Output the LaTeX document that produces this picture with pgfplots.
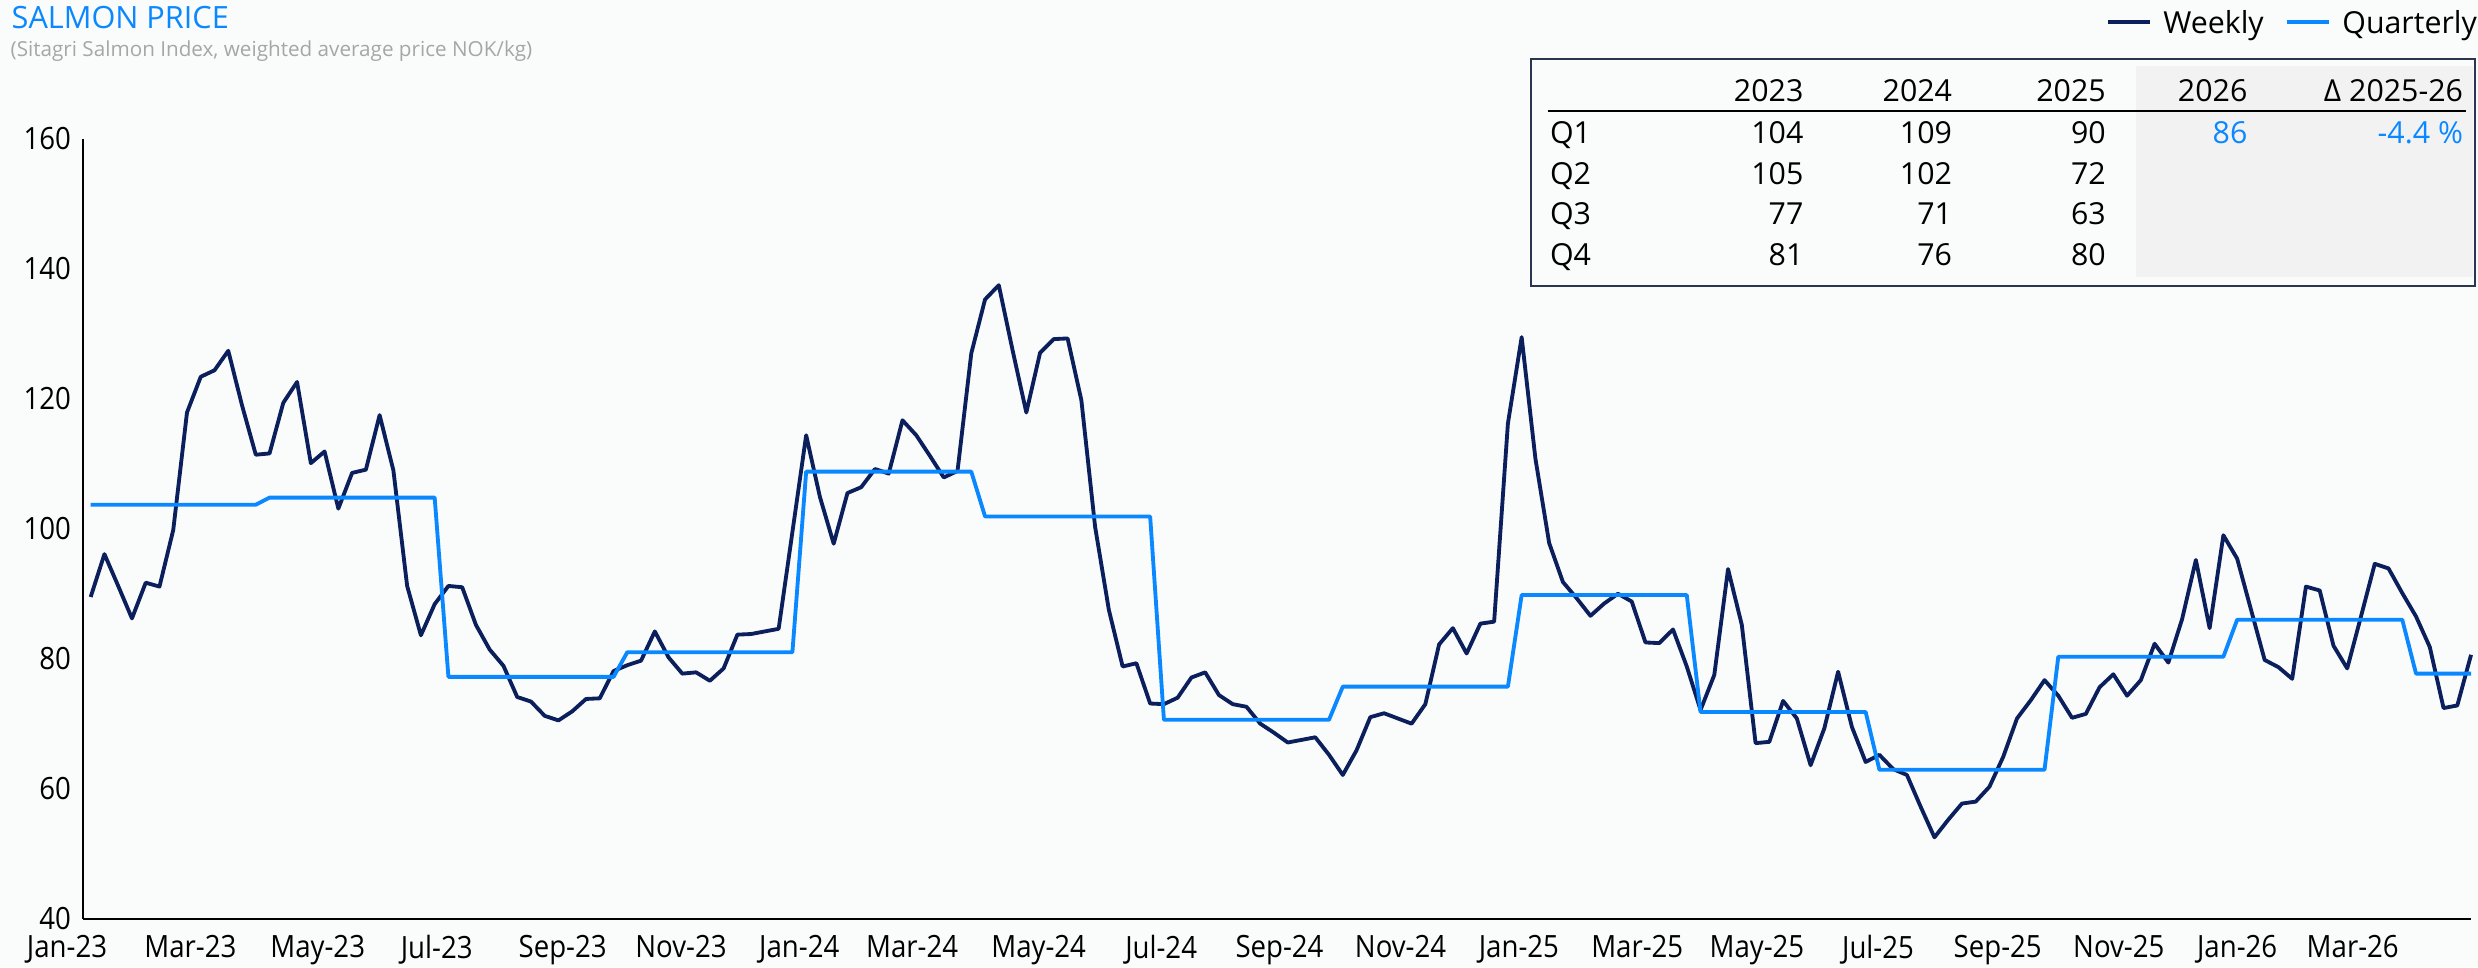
\documentclass[border=0pt]{standalone}
\usepackage{fontspec}
\setmainfont{Open Sans}
\newfontfamily\axisfont{Open Sans}[FakeStretch=0.9]
\usepackage{pgfplots}
\pgfplotsset{compat=1.18}
\usepackage{pgfplotstable}

\definecolor{navy}{HTML}{0A1F5C}
\definecolor{qblue}{HTML}{0A88FF}
\definecolor{subgrey}{HTML}{A6A6A6}
\definecolor{boxline}{HTML}{2B3550}
\definecolor{tblgrey}{HTML}{F2F2F2}
\definecolor{bg}{RGB}{250,251,251}

\pgfplotstableread{
i v
0 89.5
1 96.1
2 91.2
3 86.2
4 91.7
5 91.1
6 99.8
7 117.9
8 123.4
9 124.4
10 127.4
11 119.0
12 111.4
13 111.6
14 119.4
15 122.6
16 110.1
17 111.9
18 103.1
19 108.6
20 109.1
21 117.5
22 109.0
23 91.2
24 83.6
25 88.4
26 91.2
27 91.0
28 85.2
29 81.4
30 78.9
31 74.1
32 73.4
33 71.2
34 70.5
35 71.9
36 73.8
37 73.9
38 78.1
39 79.0
40 79.7
41 84.2
42 80.2
43 77.7
44 77.9
45 76.6
46 78.5
47 83.7
48 83.8
49 84.2
50 84.6
51 99.5
52 114.4
53 104.9
54 97.7
55 105.5
56 106.4
57 109.2
58 108.5
59 116.7
60 114.4
61 111.2
62 107.9
63 108.9
64 127.0
65 135.3
66 137.5
67 127.5
68 117.9
69 127.1
70 129.2
71 129.3
72 119.8
73 100.3
74 87.5
75 78.8
76 79.3
77 73.1
78 73.0
79 74.0
80 77.1
81 77.9
82 74.4
83 73.0
84 72.6
85 70.0
86 68.6
87 67.1
88 67.5
89 67.9
90 65.2
91 62.1
92 65.9
93 71.0
94 71.6
95 70.8
96 70.0
97 73.0
98 82.2
99 84.7
100 80.8
101 85.4
102 85.7
103 116.2
104 129.5
105 110.8
106 97.8
107 91.8
108 89.3
109 86.6
110 88.5
111 90.0
112 88.8
113 82.5
114 82.4
115 84.5
116 78.8
117 72.1
118 77.5
119 93.8
120 85.2
121 67.0
122 67.2
123 73.5
124 70.8
125 63.6
126 69.3
127 78.0
128 69.5
129 64.1
130 65.2
131 63.0
132 62.1
133 57.2
134 52.5
135 55.2
136 57.7
137 58.0
138 60.3
139 64.9
140 70.8
141 73.6
142 76.7
143 74.3
144 70.9
145 71.5
146 75.6
147 77.6
148 74.3
149 76.7
150 82.3
151 79.4
152 86.1
153 95.2
154 84.7
155 99.0
156 95.4
157 87.6
158 79.8
159 78.7
160 76.9
161 91.1
162 90.5
163 82.0
164 78.5
165 86.5
166 94.6
167 93.9
168 90.1
169 86.5
170 81.8
171 72.4
172 72.8
173 80.6
}\weekly

\pgfplotstableread{
i v
0 103.7
12 103.7
13 104.8
25 104.8
26 77.2
38 77.2
39 81.0
51 81.0
52 108.8
64 108.8
65 101.9
77 101.9
78 70.6
90 70.6
91 75.7
103 75.7
104 89.8
116 89.8
117 71.8
129 71.8
130 62.9
142 62.9
143 80.3
155 80.3
156 86.0
168 86.0
169 77.7
173 77.7
}\quarterly

\begin{document}
\begin{tikzpicture}[x=1pt,y=1pt]
\path[use as bounding box, fill=bg] (0,0) rectangle (743.4,-290.1);

% title and subtitle
\node[anchor=base west, inner sep=0, text=qblue, font=\fontsize{9.2}{11}\selectfont] at (3.3,-8.5) {SALMON PRICE};
\node[anchor=base west, inner sep=0, text=subgrey, font=\fontsize{6.2}{8}\selectfont] at (3,-16.8) {(Sitagri Salmon Index, weighted average price NOK/kg)};

\begin{axis}[
  at={(24.81pt,-275.55pt)}, anchor=south west,
  scale only axis, width=716.5pt, height=233.85pt,
  xmin=-0.58, xmax=173, ymin=40, ymax=160,
  axis lines*=left,
  axis line style={black, line width=0.6pt, -},
  xtick={-0.58,7.25,16.5,25.15,34.3,42.9,51.5,59.7,68.9,77.8,86.4,95.2,103.8,112.4,121.1,129.9,138.6,147.4,156.0,164.4},
  xticklabels={\makebox[0pt]{\makebox[0pt]{Jan-23}\kern 9.4pt},Mar-23,May-23,Jul-23,Sep-23,Nov-23,Jan-24,Mar-24,May-24,Jul-24,Sep-24,Nov-24,Jan-25,Mar-25,May-25,Jul-25,Sep-25,Nov-25,Jan-26,Mar-26},
  ytick={40,60,...,160},
  major tick length=0pt,
  tick label style={font=\axisfont\fontsize{9.2}{11}\selectfont, text=black},
  xticklabel style={yshift=-1.6pt},
  /pgf/number format/assume math mode=true,
  clip=false,
]
\addplot[navy, line width=1.15pt, line join=round] table[x=i, y=v] {\weekly};
\addplot[qblue, line width=1.15pt, line join=round] table[x=i, y=v] {\quarterly};
\end{axis}

% legend
\draw[navy, line width=1.3pt] (632.3,-6.6) -- (645.1,-6.6);
\node[anchor=base west, inner sep=0, font=\fontsize{9.1}{11}\selectfont] at (648.8,-10.0) {Weekly};
\draw[qblue, line width=1.3pt] (686.0,-6.6) -- (698.8,-6.6);
\node[anchor=base west, inner sep=0, font=\fontsize{9.1}{11}\selectfont] at (702.5,-10.0) {Quarterly};

% table
\fill[tblgrey] (640.7,-19.8) rectangle (741.9,-83.2);
\draw[boxline, line width=0.6pt] (459.3,-17.8) rectangle (742.6,-85.8);
\draw[black, line width=0.8pt] (464.3,-33.3) -- (739.7,-33.3);
\begin{scope}[every node/.style={inner sep=0, font=\fontsize{9.1}{11}\selectfont}]
\node[anchor=base east] at (541.2,-30.5) {2023};
\node[anchor=base east] at (585.8,-30.5) {2024};
\node[anchor=base east] at (631.9,-30.5) {2025};
\node[anchor=base east] at (674.4,-30.5) {2026};
\node[anchor=base east] at (739.1,-30.5) {Δ 2025-26};
\node[anchor=base west] at (464.8,-43.0) {Q1};
\node[anchor=base west] at (464.8,-55.2) {Q2};
\node[anchor=base west] at (464.8,-67.3) {Q3};
\node[anchor=base west] at (464.8,-79.5) {Q4};
\node[anchor=base east] at (541.2,-43.0) {104};
\node[anchor=base east] at (585.8,-43.0) {109};
\node[anchor=base east] at (631.9,-43.0) {90};
\node[anchor=base east, text=qblue] at (674.4,-43.0) {86};
\node[anchor=base east, text=qblue] at (739.1,-43.0) {-4.4 \%};
\node[anchor=base east] at (541.2,-55.2) {105};
\node[anchor=base east] at (585.8,-55.2) {102};
\node[anchor=base east] at (631.9,-55.2) {72};
\node[anchor=base east] at (541.2,-67.3) {77};
\node[anchor=base east] at (585.8,-67.3) {71};
\node[anchor=base east] at (631.9,-67.3) {63};
\node[anchor=base east] at (541.2,-79.5) {81};
\node[anchor=base east] at (585.8,-79.5) {76};
\node[anchor=base east] at (631.9,-79.5) {80};
\end{scope}
\end{tikzpicture}
\end{document}
